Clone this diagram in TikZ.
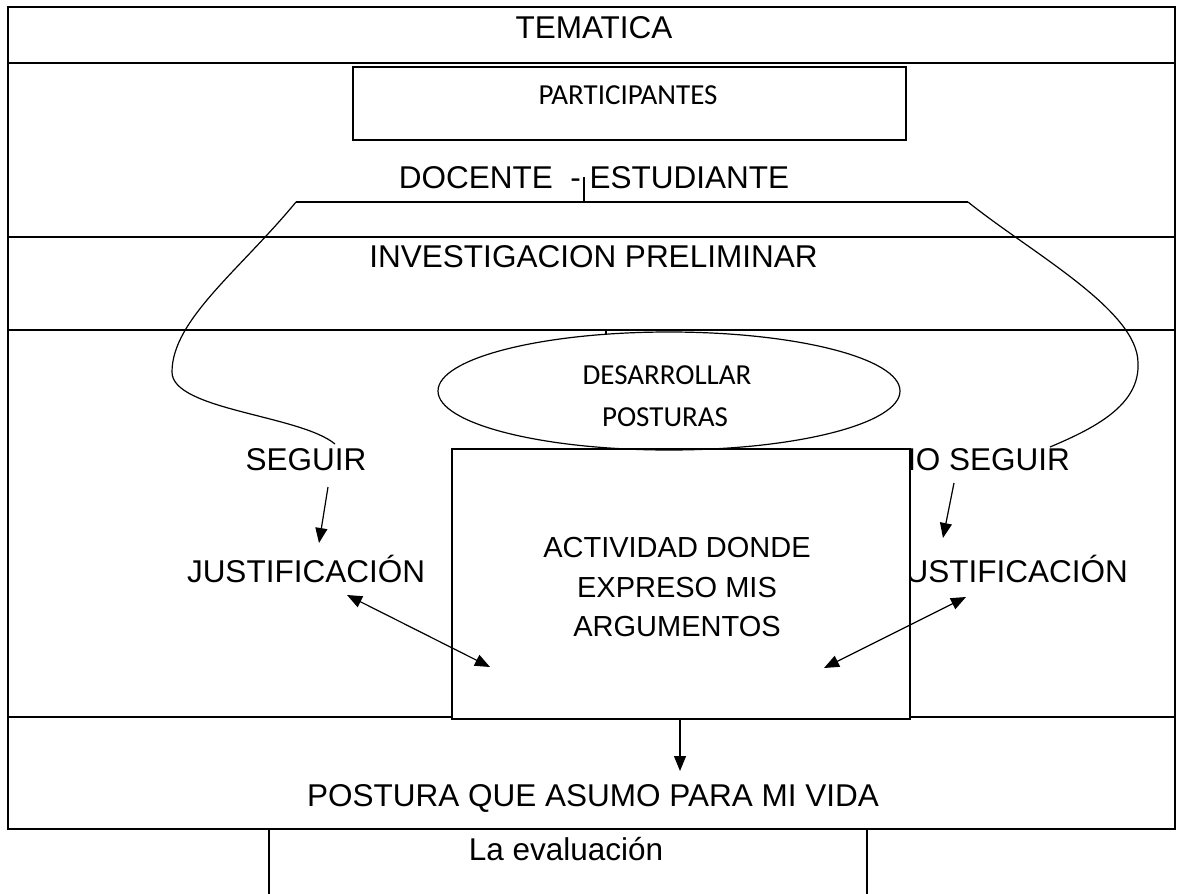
\documentclass[tikz,border=0pt]{standalone}
\usepackage{fontspec}
\setmainfont{Liberation Sans}
\newfontfamily\calib{Carlito}
\usetikzlibrary{arrows.meta,shapes.geometric}
\begin{document}
\begin{tikzpicture}[x=1pt,y=-1pt,
  frame/.style={line width=2.2pt},
  thinl/.style={line width=1.2pt},
  lbl/.style={anchor=base,inner sep=0pt,font=\fontsize{31.5}{36}\selectfont},
  cal/.style={anchor=base,inner sep=0pt,font=\calib\fontsize{29}{36}\selectfont},
  acttxt/.style={anchor=base,inner sep=0pt,font=\fontsize{29}{33}\selectfont},
  arr/.style={thinl,-{Triangle[length=15pt,width=12pt]}},
  darr/.style={thinl,{Triangle[length=15pt,width=12pt]}-{Triangle[length=15pt,width=12pt]}}]
\useasboundingbox (0,0) rectangle (1181,894);
\fill[white] (0,0) rectangle (1181,894);
% table frame and rows
\draw[frame] (8,7) rectangle (1175,829);
\draw[frame] (8,63) -- (1175,63);
\draw[frame] (8,237) -- (1175,237);
\draw[frame] (8,330) -- (1175,330);
\draw[frame] (8,717) -- (1175,717);
\draw[frame] (269,829) -- (269,896);
\draw[frame] (867,829) -- (867,896);
% texts
\node[lbl] (tem) at (594,38) {TEMATICA};
\node[draw,thinl,minimum width=553pt,minimum height=73pt,inner sep=0pt] (part) at (629.5,103.5) {};
\node[cal] (partt) at (628,104) {PARTICIPANTES};
\node[lbl] (doc) at (594,188) {DOCENTE\ \ - ESTUDIANTE};
\coordinate (bl) at (296,202);
\coordinate (br) at (968,202);
\coordinate (tk) at (584,177);
\draw[thinl] (bl) -- (br);
\draw[thinl] (tk) -- (tk |- bl);
\node[lbl] (inv) at (593.5,267) {INVESTIGACION PRELIMINAR};
\node[lbl] (seg) at (306,470) {SEGUIR};
\node[lbl,anchor=base east] (noseg) at (1070,470) {NO SEGUIR};
\node[lbl] (jl) at (306,582) {JUSTIFICACIÓN};
\node[lbl,anchor=base east] (jr) at (1128,582) {JUSTIFICACIÓN};
% activity box
\node[draw,thinl,fill=white,minimum width=458pt,minimum height=270pt,inner sep=0pt] (act) at (681,584) {};
\node[acttxt] (a1) at (677,557) {ACTIVIDAD DONDE};
\node[acttxt] (a2) at (677,597) {EXPRESO MIS};
\node[acttxt] (a3) at (677,636) {ARGUMENTOS};
% ellipse
\node[draw,thinl,ellipse,minimum width=462pt,minimum height=118pt,inner sep=0pt] (des) at (669,391) {};
\node[cal] (d1) at (667,384) {DESARROLLAR};
\node[cal] (d2) at (665,426) {POSTURAS};
\coordinate (tt) at (606,330);
\draw[thinl] (tt) -- ++(0,4);
% curves
\coordinate (lm) at (172,372);
\coordinate (le) at (335,444);
\coordinate (rm) at (1138,363);
\coordinate (re) at (1050,447);
\draw[thinl] (bl) .. controls (240,270) and (172,320) .. (lm) .. controls (172,410) and (300,415) .. (le);
\draw[thinl] (br) .. controls (1030,252) and (1138,310) .. (rm) .. controls (1140,405) and (1095,428) .. (re);
% arrows
\coordinate (s1) at (328,487);
\coordinate (s2) at (319,543);
\coordinate (n1) at (954,483);
\coordinate (n2) at (943,538);
\draw[arr] (s1) -- (s2);
\draw[arr] (n1) -- (n2);
\coordinate (dl1) at (347,595);
\coordinate (dl2) at (490,667);
\coordinate (dr1) at (966,597);
\coordinate (dr2) at (824,668);
\draw[darr] (dl1) -- (dl2);
\draw[darr] (dr1) -- (dr2);
\node[lbl] (pos) at (593,806) {POSTURA QUE ASUMO PARA MI VIDA};
\coordinate (pe) at (680,771);
\draw[arr] (act.south -| pe) -- (pe);
\node[lbl] (eva) at (566,860) {La evaluación};
\end{tikzpicture}
\end{document}
